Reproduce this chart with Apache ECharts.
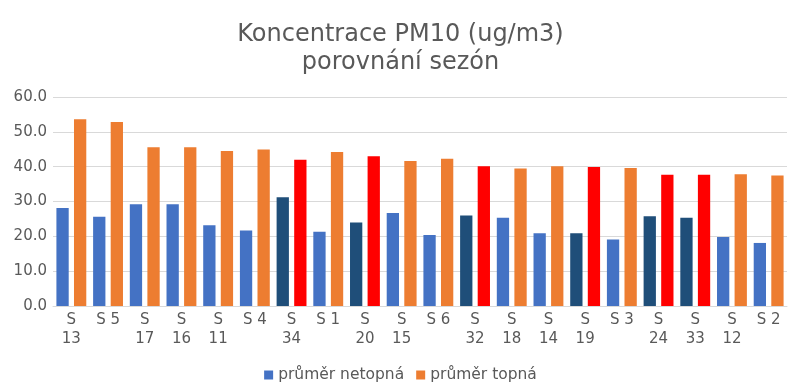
<!DOCTYPE html>
<html><head><meta charset="utf-8">
<script src="https://cdn.jsdelivr.net/npm/echarts@6/dist/echarts.min.js"></script>
<style>html,body{margin:0;padding:0;background:#fff}#c{width:801px;height:389px}</style>
</head><body><div id="c"></div>
<script>
const categories = ['S 13','S 5','S 17','S 16','S 11','S 4','S 34','S 1','S 20','S 15','S 6','S 32','S 18','S 14','S 19','S 3','S 24','S 33','S 12','S 2'];
const netopna = [28.1,25.6,29.2,29.2,23.2,21.7,31.2,21.3,24.0,26.7,20.4,26.0,25.3,20.9,20.9,19.1,25.8,25.3,19.8,18.1];
const topna = [53.6,52.8,45.6,45.6,44.5,44.9,42.0,44.2,43.0,41.6,42.3,40.1,39.5,40.1,39.9,39.6,37.7,37.7,37.8,37.5];
const highlighted = ['S 34','S 20','S 32','S 19','S 24','S 33'];
const yTicks = [0,10,20,30,40,50,60];

const C_BLUE='#4472C4', C_ORANGE='#ED7D31', C_DARK='#1F4E79', C_RED='#FF0000';
const FONT='DejaVu Sans';
const chart = echarts.init(document.getElementById('c'), null, {renderer:'canvas'});
chart.setOption({
  animation:false,
  textStyle:{fontFamily:FONT},
  title:{text:'Koncentrace PM10 (ug/m3)\nporovnání sezón',left:'center',top:16,
    textStyle:{fontFamily:FONT,fontSize:24,fontWeight:'normal',color:'#595959',lineHeight:28}},
  legend:{bottom:1,left:'center',itemWidth:9,itemHeight:9,itemGap:12,icon:'rect',
    textStyle:{fontFamily:FONT,fontSize:15.5,color:'#595959'},
    data:[{name:'průměr netopná',itemStyle:{color:C_BLUE}},{name:'průměr topná',itemStyle:{color:C_ORANGE}}]},
  grid:{left:53,right:14,top:97,bottom:83,containLabel:false},
  xAxis:{type:'category',data:categories,
    axisLine:{lineStyle:{color:'#d9d9d9'}},axisTick:{show:false},
    axisLabel:{interval:0,fontFamily:FONT,fontSize:15,color:'#595959',lineHeight:19,margin:5,
      formatter:v=>v.length>3?v.replace(' ','\n'):v}},
  yAxis:{type:'value',min:yTicks[0],max:yTicks[yTicks.length-1],interval:10,
    axisLine:{show:false},axisTick:{show:false},
    splitLine:{lineStyle:{color:'#d9d9d9'}},
    axisLabel:{fontFamily:FONT,fontSize:15,color:'#595959',margin:6,formatter:v=>v.toFixed(1)}},
  series:[
    {name:'průměr netopná',type:'bar',barWidth:'33.5%',barGap:'43%',
      data:netopna.map((v,i)=>({value:v,itemStyle:{color:highlighted.includes(categories[i])?C_DARK:C_BLUE}})),
      itemStyle:{color:C_BLUE}},
    {name:'průměr topná',type:'bar',barWidth:'33.5%',barGap:'43%',
      data:topna.map((v,i)=>({value:v,itemStyle:{color:highlighted.includes(categories[i])?C_RED:C_ORANGE}})),
      itemStyle:{color:C_ORANGE}}
  ]
});
</script></body></html>
